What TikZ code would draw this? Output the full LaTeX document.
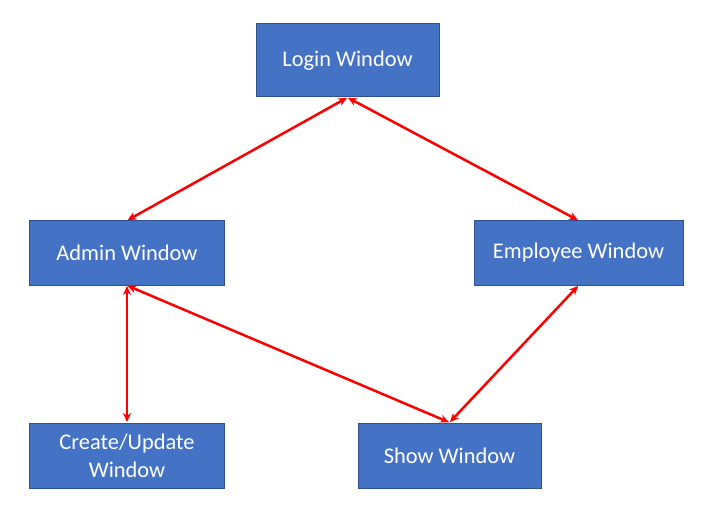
\documentclass[tikz,border=0pt]{standalone}
\usepackage{fontspec}
\setmainfont{Carlito}
\usetikzlibrary{arrows.meta}
\definecolor{boxfill}{HTML}{4472C4}
\definecolor{boxline}{HTML}{2F528F}
\begin{document}
\begin{tikzpicture}[x=1bp,y=-1bp,
  win/.style={draw=boxline,line width=1bp,fill=boxfill,text=white,font=\fontsize{22.5}{28}\selectfont,align=center,inner sep=0pt},
  link/.style={draw=red,line width=2.5bp,{Stealth[length=9bp,width=8bp]}-{Stealth[length=9bp,width=8bp]},shorten <=0.5bp,shorten >=0.5bp}]
\useasboundingbox (0,0) rectangle (706,518);
\node[win,minimum width=183bp,minimum height=73bp] (login) at (347.5,60.5) {\raisebox{-2bp}{Login Window}};
\node[win,minimum width=194bp,minimum height=64bp] (admin) at (127,253) {\raisebox{-1.5bp}{Admin Window}};
\node[win,minimum width=209bp,minimum height=64bp] (emp) at (578.5,253) {\raisebox{-2bp}{Employee Window}};
\node[win,minimum width=194bp,minimum height=65bp] (create) at (127,455.5) {Create/Update\\Window};
\node[win,minimum width=183bp,minimum height=65bp] (show) at (449.5,455.5) {\raisebox{-1.5bp}{Show Window}};
\draw[link] (login.south) -- (admin.north);
\draw[link] (login.south) -- (emp.north);
\draw[link] (admin.south) -- (create.north);
\draw[link] (admin.south) -- (show.north);
\draw[link] (emp.south) -- (show.north);
\end{tikzpicture}
\end{document}
